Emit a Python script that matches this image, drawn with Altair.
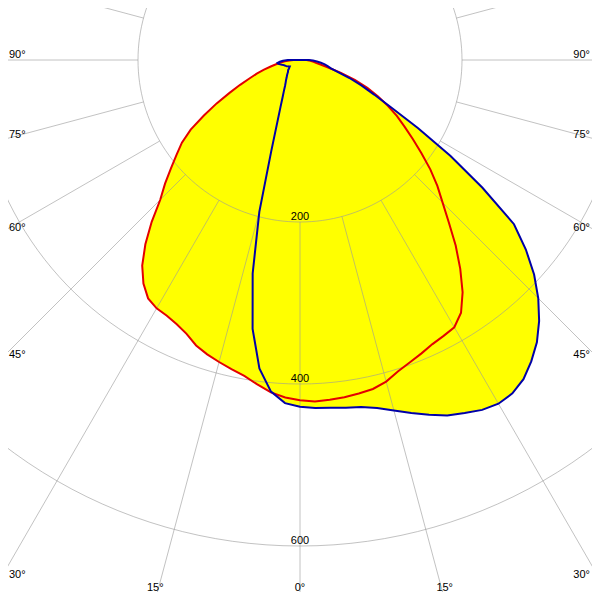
import altair as alt
import pandas as pd

# ---------------- data ----------------
# vertical angle gamma in degrees (0 = straight down)
GAMMA = [0, 2.5, 5, 7.5, 10, 12.5, 15, 17.5, 20, 22.5, 25, 27.5, 30, 32.5, 35, 37.5,
         40, 42.5, 45, 47.5, 50, 52.5, 55, 57.5, 60, 62.5, 65, 67.5, 70, 72.5, 75,
         77.5, 80, 82.5, 85, 87.5, 90, 180]
# luminous intensity (cd) per half plane
C0 = [420, 422, 421, 420, 418, 416, 411, 403, 397, 392, 387, 384, 381, 370, 350, 325,
      299, 272, 249, 230, 210, 189, 170, 153, 138, 122, 106, 90, 72, 53, 36,
      26, 20, 17, 14, 11, 8, 0]
C180 = [420, 417, 412, 404, 396, 391, 386, 381, 375, 366, 360, 356, 354, 349, 337, 320,
        297, 271, 244, 226, 208, 192, 178, 160, 137, 116, 96, 80, 66, 56, 46,
        37, 30, 24, 19, 13, 8, 0]
C90 = [428, 430, 431, 433, 435, 440, 448, 457, 466, 475, 481, 487, 490, 488, 481, 469,
       455, 437, 416, 392, 364, 333, 275, 220, 168, 127, 101, 82, 65, 48, 39,
       35, 31, 26, 21, 16, 11, 0]
C270 = [428, 424, 411, 384, 337, 270, 194, 118, 82, 63, 51, 43, 37, 33, 30, 27,
        25, 23, 21, 20, 19, 17, 16, 15, 16, 17, 18, 19, 20, 21, 23,
        25, 27, 28, 25, 21, 15, 0]

RING_VALUES = [200, 400, 600]
SIDE_ANGLES = [90, 75, 60, 45, 30]
BOTTOM_ANGLES = [-15, 0, 15]
SPOKE_ANGLES = list(range(0, 360, 15))

# ---------------- layout ----------------
K = 0.81            # pixels per cd
W, H = 584, 584     # plot area (page margin 8px on every side)
CX, CY = 292, 52    # pole position inside plot area
X_DOMAIN = [-CX / K, (W - CX) / K]
Y_DOMAIN = [-(H - CY) / K, CY / K]
EDGE_X = 300 / K
EDGE_B = 540 / K

xs = alt.Scale(domain=X_DOMAIN, nice=False, zero=False)
ys = alt.Scale(domain=Y_DOMAIN, nice=False, zero=False)
X = alt.X("x:Q", scale=xs, axis=None)
Y = alt.Y("y:Q", scale=ys, axis=None)


def polygon(name, left, right):
    rows = []
    i = 0
    for g, v in zip(reversed(GAMMA), reversed(left)):
        rows.append({"plane": name, "idx": i, "angle": -g, "I": v})
        i += 1
    for g, v in zip(GAMMA[1:], right[1:]):
        rows.append({"plane": name, "idx": i, "angle": g, "I": v})
        i += 1
    return rows


curves = pd.DataFrame(polygon("C0-C180", C180, C0) + polygon("C90-C270", C270, C90))

poly = alt.Chart(curves).transform_calculate(
    x="datum.I * sin(datum.angle * PI / 180)",
    y="-datum.I * cos(datum.angle * PI / 180)",
)

fill = poly.mark_line(fill="#ffff00", strokeOpacity=0, clip=True).encode(
    x=X, y=Y, detail="plane:N", order="idx:Q")

red = poly.transform_filter("datum.plane == 'C0-C180'").mark_line(
    color="#e40000", strokeWidth=2, clip=True).encode(x=X, y=Y, order="idx:Q")
blue = poly.transform_filter("datum.plane == 'C90-C270'").mark_line(
    color="#0000a8", strokeWidth=2, clip=True).encode(x=X, y=Y, order="idx:Q")

# grid circles
ring_rows = [{"ring": r, "a": a} for r in RING_VALUES for a in range(0, 361, 2)]
rings = alt.Chart(pd.DataFrame(ring_rows)).transform_calculate(
    x="datum.ring * sin(datum.a * PI / 180)",
    y="-datum.ring * cos(datum.a * PI / 180)",
).mark_line(color="#999999", strokeWidth=1, opacity=0.6, clip=True).encode(
    x=X, y=Y, detail="ring:N", order="a:Q")

# spokes
spokes = alt.Chart(pd.DataFrame({"a": SPOKE_ANGLES})).transform_calculate(
    x="200 * sin(datum.a * PI / 180)",
    y="-200 * cos(datum.a * PI / 180)",
    x2="1000 * sin(datum.a * PI / 180)",
    y2="-1000 * cos(datum.a * PI / 180)",
).mark_rule(color="#999999", strokeWidth=1, opacity=0.6, clip=True).encode(
    x=X, y=Y, x2="x2:Q", y2="y2:Q")

FONT = "Liberation Sans"
FS = 11

ring_labels = alt.Chart(pd.DataFrame({"v": RING_VALUES})).transform_calculate(
    x="0", y="-datum.v", t="'' + datum.v"
).mark_text(font=FONT, fontSize=FS, color="black", align="center",
            baseline="alphabetic", dy=-2).encode(x=X, y=Y, text="t:N")

left_labels = alt.Chart(pd.DataFrame({"a": SIDE_ANGLES})).transform_calculate(
    x=f"-{EDGE_X}",
    y=f"-{EDGE_X} / tan(datum.a * PI / 180)",
    t="datum.a + '°'",
).mark_text(font=FONT, fontSize=FS, color="black", align="left",
            baseline="alphabetic", dx=9, dy=-2).encode(x=X, y=Y, text="t:N")

right_labels = alt.Chart(pd.DataFrame({"a": SIDE_ANGLES})).transform_calculate(
    x=f"{EDGE_X}",
    y=f"-{EDGE_X} / tan(datum.a * PI / 180)",
    t="datum.a + '°'",
).mark_text(font=FONT, fontSize=FS, color="black", align="right",
            baseline="alphabetic", dx=-10, dy=-2).encode(x=X, y=Y, text="t:N")

bottom_labels = alt.Chart(pd.DataFrame({"a": BOTTOM_ANGLES})).transform_calculate(
    x=f"{EDGE_B} * tan(datum.a * PI / 180)",
    y=f"-{EDGE_B}",
    t="abs(datum.a) + '°'",
).mark_text(font=FONT, fontSize=FS, color="black", align="center",
            baseline="alphabetic", dy=-9).encode(x=X, y=Y, text="t:N")

chart = alt.layer(
    fill, rings, spokes, red, blue, ring_labels, left_labels, right_labels, bottom_labels
).properties(
    width=W, height=H, padding=0, autosize=alt.AutoSizeParams(type="none"),
    background="white",
).configure_view(strokeWidth=0)

chart.save("out.html", embed_options={"renderer": "svg", "actions": False})
